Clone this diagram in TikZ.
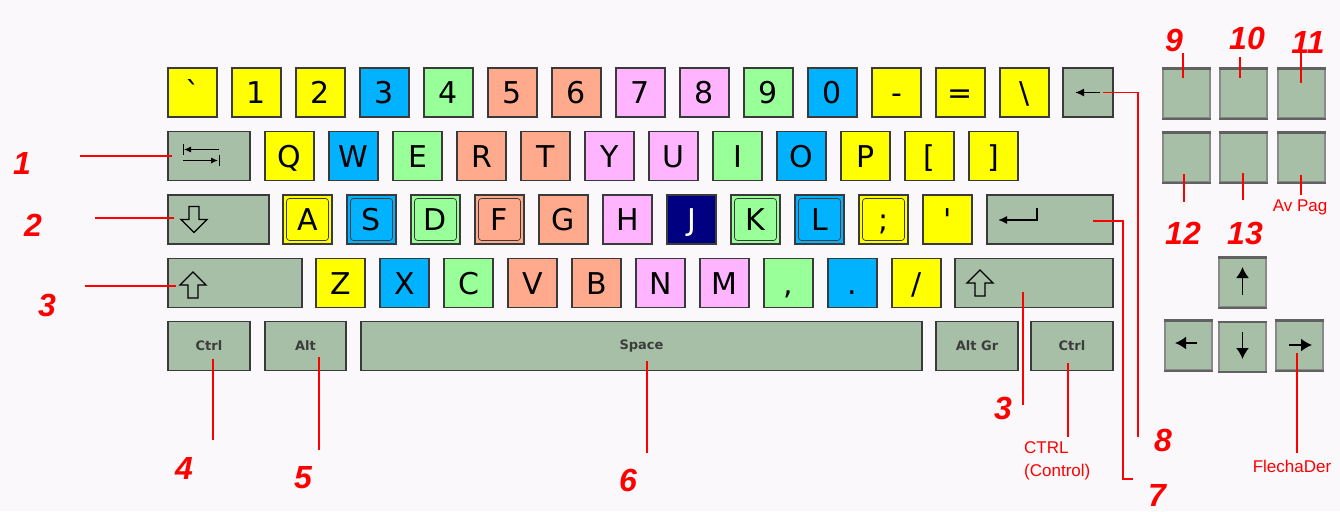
\documentclass[tikz,border=0pt]{standalone}
\usepackage{fontspec}
\setmainfont{DejaVu Sans}
\newfontfamily\labelfont{Liberation Sans}
\usetikzlibrary{arrows.meta}
\definecolor{bgfill}{HTML}{FAF8FB}
\definecolor{keyline}{HTML}{3A3A3A}
\definecolor{keyyel}{HTML}{FFFF00}
\definecolor{keyblu}{HTML}{00B2FF}
\definecolor{keygrn}{HTML}{99FF99}
\definecolor{keysal}{HTML}{FFAA8C}
\definecolor{keypnk}{HTML}{FFB4FF}
\definecolor{keynavy}{HTML}{000080}
\definecolor{keygray}{HTML}{A6BFA6}
\definecolor{captext}{HTML}{3C3C3C}
\definecolor{markred}{HTML}{FF0000}
\tikzset{
  key/.style={rectangle, draw=keyline, line width=1.2pt, fill=#1,
    minimum width=49pt, minimum height=49pt, inner sep=0pt,
    text height=22pt, text depth=0pt, font=\fontsize{30}{30}\selectfont},
  plain/.style={},
  home/.style={path picture={\draw[keyline, line width=0.7pt, rounded corners=3pt]
      ([shift={(3.5pt,3.5pt)}]path picture bounding box.south west) rectangle
      ([shift={(-3.5pt,-3.5pt)}]path picture bounding box.north east);}},
  dark/.style={text=white},
  modkey/.style={rectangle, draw=keyline, line width=1.2pt, fill=keygray,
    minimum width=#1, minimum height=49pt, inner sep=0pt,
    font=\fontsize{13}{13}\selectfont\bfseries, text=captext},
  navkey/.style={modkey=47pt, draw=keyline!60},
  navedge/.style={draw=keyline!80, line width=2.2pt},
  icon/.style={draw=black, line width=1.8pt},
  headed/.style={-{Latex[length=11pt,width=13pt]}},
  leader/.style={draw=markred, line width=1.5pt},
  num/.style={font=\labelfont\fontsize{32}{32}\selectfont\bfseries\itshape,
    text=markred, inner sep=0pt},
  note/.style={font=\labelfont\fontsize{17}{23}\selectfont, text=markred,
    inner sep=0pt, align=left},
  shiftarrow/.pic={\draw[line width=1.3pt, fill=keygray]
      (-5,13) -- (-5,0) -- (-13,0) -- (0,-13) -- (13,0) -- (5,0) -- (5,13) -- cycle;},
}
\begin{document}
\begin{tikzpicture}[x=1pt,y=-1pt]
\fill[bgfill] (0,0) rectangle (1340,511);
\useasboundingbox (0,0) rectangle (1340,511);

\def\ya{92.5}  % number row
\def\yb{156}   % top letter row
\def\yc{219.5} % home row
\def\yd{283}   % bottom letter row
\def\ye{346}   % space bar row

% ---- Coloured keys -------------------------------------------------------
\foreach \c/\t [count=\i from 0] in {keyyel/\textasciigrave, keyyel/1, keyyel/2,
    keyblu/3, keygrn/4, keysal/5, keysal/6, keypnk/7, keypnk/8, keygrn/9,
    keyblu/0, keyyel/-, keyyel/=, keyyel/\textbackslash}
  \node[key=\c] (a\i) at ({192.5+64*\i},\ya) {\t};

\foreach \c/\t [count=\i from 0] in {keyyel/Q, keyblu/W, keygrn/E, keysal/R,
    keysal/T, keypnk/Y, keypnk/U, keygrn/I, keyblu/O, keyyel/P, keyyel/{[},
    keyyel/{]}}
  \node[key=\c] (b\i) at ({289.5+64*\i},\yb) {\t};

\foreach \c/\t/\h [count=\i from 0] in {keyyel/A/home, keyblu/S/home,
    keygrn/D/home, keysal/F/home, keysal/G/plain, keypnk/H/plain,
    keynavy/J/dark, keygrn/K/home, keyblu/L/home, keyyel/;/home,
    keyyel/\textquotesingle/plain}
  \node[key=\c, \h] (c\i) at ({307.5+64*\i},\yc) {\t};

\foreach \c/\t [count=\i from 0] in {keyyel/Z, keyblu/X, keygrn/C, keysal/V,
    keysal/B, keypnk/N, keypnk/M, keygrn/{,}, keyblu/., keyyel/{/}}
  \node[key=\c] (d\i) at ({340.5+64*\i},\yd) {\t};

% ---- Grey keys -----------------------------------------------------------
\node[modkey=50pt] (bksp) at (1088,\ya) {};
\node[modkey=82pt] (tab) at (209,\yb) {};
\node[modkey=101pt] (caps) at (218.5,\yc) {};
\node[modkey=126pt] (enter) at (1050,\yc) {};
\node[modkey=134pt] (lshift) at (235,\yd) {};
\node[modkey=158pt] (rshift) at (1034,\yd) {};
\node[modkey=82pt] (lctrl) at (209,\ye) {Ctrl};
\node[modkey=81pt] (lalt) at (305.5,\ye) {Alt};
\node[modkey=561pt] (space) at (641.5,\ye) {Space};
\node[modkey=82pt] (altgr) at (977,\ye) {Alt Gr};
\node[modkey=82pt] (rctrl) at (1072,\ye) {Ctrl};

% editing block and arrows
\node[navkey] (ins) at (1186.5,93.5) {};
\node[navkey] (hom) at (1243.5,93.5) {};
\node[navkey] (pgup) at (1301.5,93.5) {};
\node[navkey] (del) at (1186.5,157.5) {};
\node[navkey] (fin) at (1243.5,157.5) {};
\node[navkey] (pgdn) at (1301.5,157.5) {};
\node[navkey] (uarrow) at (1242.5,282.5) {};
\node[navkey] (larrow) at (1188.5,345.5) {};
\node[navkey] (darrow) at (1242.5,347) {};
\node[navkey] (rarrow) at (1299.5,345.5) {};
\foreach \k in {ins,hom,pgup,del,fin,pgdn,uarrow,larrow,darrow,rarrow}
  \draw[navedge] (\k.north west) -- (\k.north east)
    (\k.south west) -- (\k.south east);

% ---- Key symbols ---------------------------------------------------------
\draw[icon, line width=1.5pt, -{Latex[length=9pt,width=8pt]}]
  ([xshift=12pt]bksp.center) -- ([xshift=-13pt]bksp.center);
\draw[icon, line width=1pt, -{Latex[length=7pt,width=6pt]}]
  ([shift={(10,-6.5)}]tab.center) -- ([shift={(-25,-6.5)}]tab.center);
\draw[icon, line width=1pt] ([shift={(-26,-12)}]tab.center) -- ([shift={(-26,-1)}]tab.center);
\draw[icon, line width=1pt, -{Latex[length=7pt,width=6pt]}]
  ([shift={(-26,4.5)}]tab.center) -- ([shift={(9,4.5)}]tab.center);
\draw[icon, line width=1pt] ([shift={(10,-1)}]tab.center) -- ([shift={(10,10)}]tab.center);
\pic[rotate=180] at ([xshift=-24.5pt]caps.center) {shiftarrow};
\pic at ([shift={(-42,2)}]lshift.center) {shiftarrow};
\pic at ([xshift=-54pt]rshift.center) {shiftarrow};
\draw[icon, line width=1.5pt, -{Latex[length=9pt,width=8pt]}] ([shift={(-13,-11.5)}]enter.center)
  -- ([shift={(-13,0.5)}]enter.center) -- ([shift={(-52,0.5)}]enter.center);
\draw[icon, headed] ([yshift=-12.5pt]uarrow.center) -- ([yshift=15.5pt]uarrow.center);
\draw[icon, headed] ([yshift=15pt]darrow.center) -- ([yshift=-12pt]darrow.center);
\draw[icon, headed] ([shift={(8.5,-2.5)}]larrow.center) -- ([shift={(-13.5,-2.5)}]larrow.center);
\draw[icon, headed] ([shift={(-10.5,-0.5)}]rarrow.center) -- ([shift={(12.5,-0.5)}]rarrow.center);

% ---- Red labels ----------------------------------------------------------
\node[num] (n1) at (22,163) {1};
\node[num] (n2) at (33,225) {2};
\node[num] (n3) at (47,305) {3};
\node[num] (n4) at (184,468) {4};
\node[num] (n5) at (303,478) {5};
\node[num] (n6) at (628,480) {6};
\node[num] (n3b) at (1003,408) {3};
\node[num] (n7) at (1157,495) {7};
\node[num] (n8) at (1163,440) {8};
\node[num] (n9) at (1174,40) {9};
\node[num] (n10) at (1247,38) {10};
\node[num] (n11) at (1308,42) {11};
\node[num] (n12) at (1183,233) {12};
\node[num] (n13) at (1245,233) {13};
\node[note, anchor=west] (ctrlnote) at (1024,460.5) {CTRL\\(Control)};
\node[note] (avpag) at (1300,207) {Av Pag};
\node[note] (flecha) at (1292,466) {FlechaDer};

% left side
\draw[leader] ([xshift=5pt]tab.west) -- ++(-92,0);
\draw[leader] ([shift={(7,-1.5)}]caps.west) -- ++(-79,0);
\draw[leader] ([shift={(9,3)}]lshift.west) -- ++(-91,0);
% bottom row
\draw[leader] ([shift={(4,13)}]lctrl.center) -- ++(0,81);
\draw[leader] ([shift={(13.5,11)}]lalt.center) -- ++(0,93);
\draw[leader] ([shift={(5.5,15)}]space.center) -- ++(0,92);
\draw[leader] ([shift={(-11,9)}]rshift.center) -- ++(0,113);
\draw[leader] ([shift={(-4,17)}]rctrl.center) -- ++(0,74);
\draw[leader] ([shift={(43,1.5)}]enter.center) -| ++(30,258) -- ++(10,0);
\draw[leader] ([xshift=15pt]bksp.center) -| ++(35,344);
% editing block
\draw[leader] ([shift={(-3.5,-16)}]ins.center) -- ++(0,-24);
\draw[leader] ([shift={(-3.5,-16)}]hom.center) -- ++(0,-20);
\draw[leader] ([shift={(-0.5,-11)}]pgup.center) -- ++(0,-29);
\draw[leader] ([shift={(-2.5,16.5)}]del.center) -- ++(0,28);
\draw[leader] ([shift={(-0.5,15.5)}]fin.center) -- ++(0,27);
\draw[leader] ([shift={(-0.5,17.5)}]pgdn.center) -- ++(0,20);
\draw[leader] ([shift={(-2.5,7.5)}]rarrow.center) -- ++(0,100);

\end{tikzpicture}
\end{document}
